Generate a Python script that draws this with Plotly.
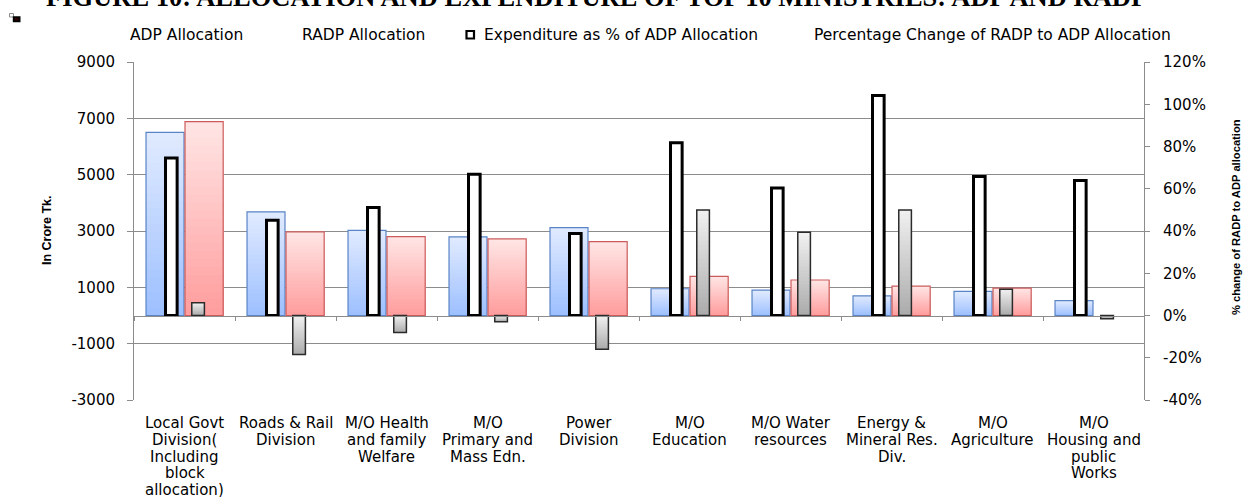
import plotly.graph_objects as go

# ---- data -----------------------------------------------------------------
ministries = [
    "Local Govt Division( Including block allocation)",
    "Roads & Rail Division",
    "M/O Health and family Welfare",
    "M/O Primary and Mass Edn.",
    "Power Division",
    "M/O Education",
    "M/O Water resources",
    "Energy & Mineral Res. Div.",
    "M/O Agriculture",
    "M/O Housing and public Works",
]
category_labels = [
    "Local Govt<br>Division(<br>Including<br>block<br>allocation)",
    "Roads & Rail<br>Division",
    "M/O Health<br>and family<br>Welfare",
    "M/O<br>Primary and<br>Mass Edn.",
    "Power<br>Division",
    "M/O<br>Education",
    "M/O Water<br>resources",
    "Energy &<br>Mineral Res.<br>Div.",
    "M/O<br>Agriculture",
    "M/O<br>Housing and<br>public<br>Works",
]
# In crore Tk.
adp_allocation = [6500, 3680, 3020, 2790, 3120, 950, 900, 700, 860, 530]
radp_allocation = [6880, 2970, 2800, 2720, 2620, 1390, 1260, 1040, 970, None]
# Fractions (right axis)
expenditure_pct_of_adp = [0.746, 0.451, 0.511, 0.669, 0.388, 0.818, 0.603, 1.041, 0.658, 0.639]
radp_change_pct = [0.06, -0.185, -0.08, -0.03, -0.16, 0.50, 0.394, 0.50, 0.124, -0.015]

left_tick_vals = [-3000, -1000, 1000, 3000, 5000, 7000, 9000]
left_tick_text = ["-3000", "-1000", "1000", "3000", "5000", "7000", "9000"]
right_tick_vals = [-0.4, -0.2, 0.0, 0.2, 0.4, 0.6, 0.8, 1.0, 1.2]
right_tick_text = ["-40%", "-20%", "0%", "20%", "40%", "60%", "80%", "100%", "120%"]

legend_labels = [
    "ADP Allocation",
    "RADP Allocation",
    "Expenditure as % of ADP Allocation",
    "Percentage Change of RADP to ADP Allocation",
]
title_text = "FIGURE 10: ALLOCATION AND EXPENDITURE OF TOP 10 MINISTRIES: ADP AND RADP"

# ---- geometry helpers ---------------------------------------------------------
W, H = 1244, 497
M_L, M_R, M_T, M_B = 134, 100, 62, 97
PW = W - M_L - M_R
PH = H - M_T - M_B


def px_x(x):
    return (x - M_L) / PW


def px_y(y):
    return (H - M_B - y) / PH


def blend(c0, c1, t):
    r, g, b = (round(a + (b_ - a) * t) for a, b_ in zip(c0, c1))
    return f"rgb({r},{g},{b})"


TICK_FONT = dict(family="DejaVu Sans", size=15, color="#000000")
GRID = "#8c8c8c"


def gradient_bars(values, offset, width, top_rgb, bottom_rgb, edge, edge_w, yaxis, layers=24):
    """Bars with a vertical light-to-dark fill built from stacked layers."""
    traces = []
    for k in range(layers):
        frac = 1 - k / layers
        t = k / (layers - 1)
        heights = [None if v is None else abs(v) * frac for v in values]
        bases = [0 if v is None else min(0, v) for v in values]
        traces.append(go.Bar(
            x=ministries, y=heights, base=bases, offset=offset, width=width,
            marker=dict(color=blend(top_rgb, bottom_rgb, t), line=dict(width=0)),
            yaxis=yaxis, showlegend=False, hoverinfo="skip",
        ))
    traces.append(go.Bar(
        x=ministries, y=values, offset=offset, width=width,
        marker=dict(color="rgba(0,0,0,0)", line=dict(color=edge, width=edge_w)),
        yaxis=yaxis, showlegend=False,
    ))
    return traces


fig = go.Figure()

# Allocation bars (left axis)
for tr in gradient_bars(adp_allocation, -0.381, 0.376, (224, 234, 255), (158, 192, 255),
                        "#5a84c6", 1.2, "y"):
    fig.add_trace(tr)
for tr in gradient_bars(radp_allocation, 0.005, 0.378, (255, 228, 228), (255, 158, 158),
                        "#cc5c5c", 1.2, "y"):
    fig.add_trace(tr)

# Percentage bars (right axis)
fig.add_trace(go.Bar(
    x=ministries, y=expenditure_pct_of_adp, offset=-0.188, width=0.115,
    marker=dict(color="#ffffff", line=dict(color="#000000", width=3)),
    yaxis="y2", showlegend=False,
))
for tr in gradient_bars(radp_change_pct, 0.072, 0.125, (240, 240, 240), (172, 172, 172),
                        "#2b2b2b", 1.5, "y2"):
    fig.add_trace(tr)

# ---- annotations ---------------------------------------------------------------
annotations = []
# category labels, one annotation per line for a tight line pitch
LABEL_TOP, LABEL_PITCH = 423, 16.75
for name, lab in zip(ministries, category_labels):
    for i, line in enumerate(lab.split("<br>")):
        annotations.append(dict(
            x=name, xref="x", y=px_y(LABEL_TOP + i * LABEL_PITCH), yref="paper",
            yanchor="middle", xanchor="center",
            text=line, showarrow=False, align="center",
            font=dict(family="DejaVu Sans", size=15, color="#000000"),
        ))

legend_x = [128, 300, 482, 812]
for lx, txt in zip(legend_x, legend_labels):
    annotations.append(dict(
        x=px_x(lx), xref="paper", y=px_y(35), yref="paper", xanchor="left", yanchor="middle",
        text=txt, showarrow=False, font=dict(family="DejaVu Sans", size=15.5, color="#000000"),
    ))

annotations.append(dict(
    x=px_x(47), xref="paper", y=px_y(231), yref="paper", xanchor="center", yanchor="middle",
    text="In Crore Tk.", textangle=-90, showarrow=False,
    font=dict(family="Liberation Sans", size=12.5, weight="bold", color="#000000"),
))
annotations.append(dict(
    x=px_x(1236), xref="paper", y=px_y(217), yref="paper", xanchor="center", yanchor="middle",
    text="% change of RADP to ADP allocation", textangle=-90, showarrow=False,
    font=dict(family="Liberation Sans", size=11.2, weight="bold", color="#000000"),
))
annotations.append(dict(
    x=px_x(596), xref="paper", y=px_y(-3), yref="paper", xanchor="center", yanchor="middle",
    text=title_text, showarrow=False,
    font=dict(family="Liberation Serif, Times New Roman", size=26.5, weight="bold", color="#000000"),
))

shapes = [
    # legend key for the outlined expenditure bars
    dict(type="rect", xref="paper", yref="paper",
         x0=px_x(466.5), x1=px_x(474), y0=px_y(38.5), y1=px_y(31),
         line=dict(color="#000000", width=2.2), fillcolor="#ffffff"),
    # small handle glyph in the corner
    dict(type="rect", xref="paper", yref="paper",
         x0=px_x(9.5), x1=px_x(13.5), y0=px_y(17), y1=px_y(13.5),
         line=dict(color="#8a8a8a", width=1), fillcolor="#ffffff"),
    dict(type="rect", xref="paper", yref="paper",
         x0=px_x(13.8), x1=px_x(19.5), y0=px_y(21.2), y1=px_y(17.2),
         line=dict(color="#000000", width=2), fillcolor="#3a0000"),
]

fig.update_layout(
    width=W, height=H,
    margin=dict(l=M_L, r=M_R, t=M_T, b=M_B, pad=0),
    paper_bgcolor="#ffffff", plot_bgcolor="#ffffff",
    barmode="overlay",
    showlegend=False,
    annotations=annotations,
    shapes=shapes,
    xaxis=dict(
        type="category", categoryorder="array", categoryarray=ministries,
        range=[-0.5, len(ministries) - 0.5],
        anchor="free", position=px_y(315.6),
        showline=True, linecolor=GRID, linewidth=1,
        ticks="outside", tickson="boundaries", ticklen=4, tickcolor=GRID,
        showticklabels=False, showgrid=False, zeroline=False,
    ),
    yaxis=dict(
        range=[-3000, 9000], tickvals=left_tick_vals, ticktext=left_tick_text,
        showgrid=True, gridcolor=GRID, gridwidth=1,
        showline=True, linecolor=GRID, linewidth=1,
        ticks="outside", ticklen=6, tickcolor=GRID,
        tickfont=TICK_FONT, ticklabelstandoff=9, zeroline=False,
    ),
    yaxis2=dict(
        overlaying="y", side="right", anchor="x",
        range=[-0.4, 1.2], tickvals=right_tick_vals, ticktext=right_tick_text,
        showgrid=False, showline=True, linecolor=GRID, linewidth=1,
        ticks="outside", ticklen=5, tickcolor=GRID,
        tickfont=TICK_FONT, ticklabelstandoff=10, zeroline=False,
    ),
)

fig.write_html("out.html")
